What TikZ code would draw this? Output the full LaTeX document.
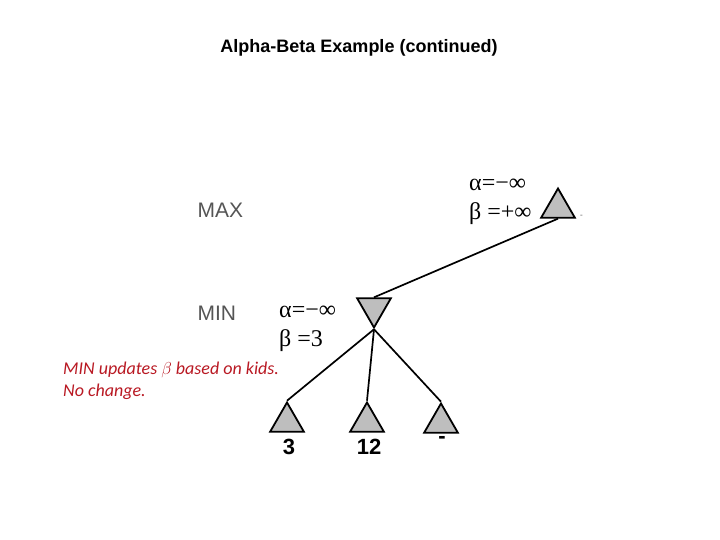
\documentclass[tikz,border=0pt]{standalone}
\usepackage{fontspec}
\setmainfont{Liberation Serif}
\newfontfamily\arialfont{Liberation Sans}
\newfontfamily\calibrifont{Carlito}
\usetikzlibrary{shapes.geometric}
\definecolor{triclr}{RGB}{190,190,190}
\definecolor{levelclr}{RGB}{85,85,85}
\definecolor{noteclr}{RGB}{185,25,35}
\tikzset{
  maxtri/.style={regular polygon, regular polygon sides=3, minimum size=39pt,
        inner sep=0pt, fill=triclr, draw=black, line width=1.8pt},
  mintri/.style={maxtri, shape border rotate=180},
  leveltxt/.style={anchor=west, font=\arialfont\fontsize{21}{24}\selectfont, text=levelclr},
  abtxt/.style={anchor=west, align=left, inner sep=0pt, font=\fontsize{24}{29}\selectfont},
  leaftxt/.style={font=\arialfont\bfseries\fontsize{22}{24}\selectfont},
  edge/.style={draw=black, line width=1.7pt}
}

\begin{document}
\begin{tikzpicture}[x=1pt,y=-1pt]
  \useasboundingbox[fill=white] (0,0) rectangle (720,540);
  \node (title) at (359,48) {\arialfont\bfseries\fontsize{18}{20}\selectfont Alpha-Beta Example (continued)};
  % levels
  \node[leveltxt] (maxlbl) at (194,210) {MAX};
  \node[leveltxt] (minlbl) at (194,313) {MIN};
  % tree
  \node[maxtri] (root) at (558,208) {};
  \node[mintri] (mid) at (374,308) {};
  \node[maxtri] (lfa) at (287,422) {};
  \node[maxtri] (lfb) at (367,422) {};
  \node[maxtri] (lfc) at (441,423) {};
  \draw[edge] (root.south) -- (mid.north);
  \draw[edge] (mid.corner 1) -- (lfa.corner 1);
  \draw[edge] (mid.corner 1) -- (lfb.corner 1);
  \draw[edge] (mid.corner 1) -- (lfc.corner 1);
  % bounds
  \node[abtxt] (rootab) at (469,202) {α=−∞\\β =+∞};
  \node[abtxt] (midab) at (279,329) {α=−∞\\β =3};
  \node[anchor=west, text=levelclr, font=\fontsize{8}{8}\selectfont, inner sep=0pt] (rootmark) at (580,216) {-};
  % leaf values
  \node[leaftxt] (vala) at (289,447) {3};
  \node[leaftxt] (valb) at (369,447) {12};
  \node[leaftxt] (valc) at (442,440) {-};
  % note
  \node[anchor=north west, align=left, inner sep=0pt, text=noteclr,
        font=\calibrifont\itshape\fontsize{18}{22}\selectfont] (note) at (63,362)
    {MIN updates $\beta$ based on kids.\\No change.};
\end{tikzpicture}
\end{document}
